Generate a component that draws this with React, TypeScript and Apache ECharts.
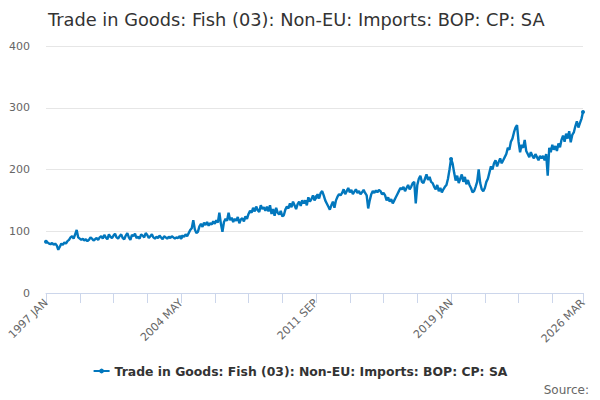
import React, { useEffect, useRef } from "react";
import * as echarts from "echarts";

const TITLE = "Trade in Goods: Fish (03): Non-EU: Imports: BOP: CP: SA";
const START_YEAR = 1997;
const MONTHS = ["JAN", "FEB", "MAR", "APR", "MAY", "JUN", "JUL", "AUG", "SEP", "OCT", "NOV", "DEC"];
const Y_TICKS = [0, 100, 200, 300, 400];

const v1997 = [83, 82, 80, 79, 81, 78, 80, 77, 70, 75, 80, 78];
const v1998 = [82, 80, 84, 86, 90, 92, 88, 95, 102, 90, 88, 86];
const v1999 = [88, 85, 87, 84, 86, 90, 88, 85, 87, 89, 86, 90];
const v2000 = [92, 88, 94, 90, 87, 95, 91, 89, 93, 96, 90, 88];
const v2001 = [92, 95, 89, 87, 93, 97, 90, 86, 94, 92, 96, 89];
const v2002 = [91, 88, 95, 93, 90, 97, 94, 89, 92, 95, 90, 88];
const v2003 = [91, 89, 93, 90, 87, 92, 90, 88, 91, 89, 92, 90];
const v2004 = [88, 90, 89, 92, 90, 93, 91, 95, 92, 97, 102, 105];
const v2005 = [118, 103, 97, 99, 108, 112, 107, 114, 110, 115, 109, 113];
const v2006 = [111, 116, 112, 118, 114, 130, 112, 99, 115, 120, 117, 130];
const v2007 = [118, 122, 115, 120, 117, 123, 113, 119, 121, 116, 124, 120];
const v2008 = [128, 133, 130, 138, 132, 140, 134, 131, 142, 136, 139, 133];
const v2009 = [140, 132, 142, 128, 136, 125, 138, 130, 127, 133, 124, 126];
const v2010 = [135, 140, 137, 145, 139, 148, 142, 136, 144, 148, 141, 150];
const v2011 = [145, 150, 142, 155, 148, 152, 158, 150, 155, 160, 153, 162];
const v2012 = [165, 158, 150, 145, 140, 135, 142, 148, 138, 150, 156, 160];
const v2013 = [158, 162, 168, 160, 165, 170, 163, 167, 160, 164, 168, 162];
const v2014 = [165, 160, 163, 167, 162, 158, 137, 150, 160, 165, 162, 166];
const v2015 = [163, 167, 165, 160, 162, 158, 150, 155, 148, 152, 145, 150];
const v2016 = [155, 160, 165, 170, 168, 172, 165, 170, 175, 168, 172, 178];
const v2017 = [180, 145, 175, 185, 190, 180, 178, 185, 192, 183, 188, 180];
const v2018 = [178, 172, 168, 175, 165, 170, 163, 168, 172, 175, 185, 200];
const v2019 = [217, 210, 195, 182, 190, 178, 185, 192, 180, 188, 176, 183];
const v2020 = [175, 170, 163, 165, 172, 180, 200, 178, 168, 165, 170, 180];
const v2021 = [185, 195, 205, 200, 210, 215, 205, 212, 218, 210, 215, 220];
const v2022 = [225, 235, 232, 245, 250, 260, 268, 272, 245, 228, 240, 235];
const v2023 = [248, 230, 225, 220, 228, 222, 218, 225, 220, 215, 222, 218];
const v2024 = [222, 215, 225, 190, 235, 228, 240, 232, 238, 230, 242, 236];
const v2025 = [248, 255, 245, 258, 250, 262, 244, 256, 260, 270, 278, 268];
const v2026 = [275, 282, 293];

const VALUES = [
  ...v1997, ...v1998, ...v1999, ...v2000, ...v2001, ...v2002, ...v2003, ...v2004,
  ...v2005, ...v2006, ...v2007, ...v2008, ...v2009, ...v2010, ...v2011, ...v2012,
  ...v2013, ...v2014, ...v2015, ...v2016, ...v2017, ...v2018, ...v2019, ...v2020,
  ...v2021, ...v2022, ...v2023, ...v2024, ...v2025, ...v2026,
];

const CATEGORIES = VALUES.map((_, i) => `${START_YEAR + Math.floor(i / 12)} ${MONTHS[i % 12]}`);
const LAST = CATEGORIES.length - 1;
const FONT = "DejaVu Sans";
const LINE_COLOR = "#0277bd";

export default function App() {
  const ref = useRef<HTMLDivElement>(null);
  useEffect(() => {
    if (!ref.current) return;
    const chart = echarts.init(ref.current, undefined, { renderer: "svg" });
    chart.setOption({
      animation: false,
      backgroundColor: "#ffffff",
      textStyle: { fontFamily: FONT },
      title: {
        text: TITLE,
        left: 43,
        top: 5,
        textStyle: { fontFamily: FONT, fontSize: 17.8, fontWeight: "normal", color: "#333333" },
      },
      grid: { left: 46, right: 17, top: 46, bottom: 107 },
      xAxis: {
        type: "category",
        data: CATEGORIES,
        boundaryGap: false,
        axisLine: { lineStyle: { color: "#ccd6eb", width: 1 } },
        axisTick: {
          length: 10,
          lineStyle: { color: "#ccd6eb" },
          interval: (i: number) => i % 22 === 0 || i === LAST,
        },
        axisLabel: {
          rotate: 45,
          color: "#666666",
          fontSize: 11,
          fontFamily: FONT,
          margin: 8,
          interval: (i: number) => i % 88 === 0 || i === LAST,
        },
        splitLine: { show: false },
      },
      yAxis: {
        type: "value",
        min: Y_TICKS[0],
        max: Y_TICKS[Y_TICKS.length - 1],
        interval: 100,
        axisLine: { show: false },
        axisTick: { show: false },
        axisLabel: { color: "#666666", fontSize: 11, fontFamily: FONT, margin: 16 },
        splitLine: { lineStyle: { color: "#e6e6e6" } },
      },
      legend: {
        bottom: 18,
        left: "center",
        itemWidth: 16,
        itemHeight: 6,
        itemGap: 5,
        textStyle: { fontFamily: FONT, fontSize: 12.4, fontWeight: "bold", color: "#333333" },
        data: [TITLE],
      },
      graphic: [
        {
          type: "text",
          right: 11,
          bottom: 4,
          style: { text: "Source:", fontFamily: FONT, fontSize: 12, fill: "#666666" },
        },
      ],
      series: [
        {
          name: TITLE,
          type: "line",
          data: VALUES,
          color: LINE_COLOR,
          lineStyle: { width: 2.4, color: LINE_COLOR },
          symbol: "circle",
          symbolSize: 4,
          showSymbol: true,
          itemStyle: { color: LINE_COLOR },
        },
      ],
    });
    return () => chart.dispose();
  }, []);
  return <div ref={ref} style={{ position: "fixed", left: 0, top: 0, width: 600, height: 400 }} />;
}
